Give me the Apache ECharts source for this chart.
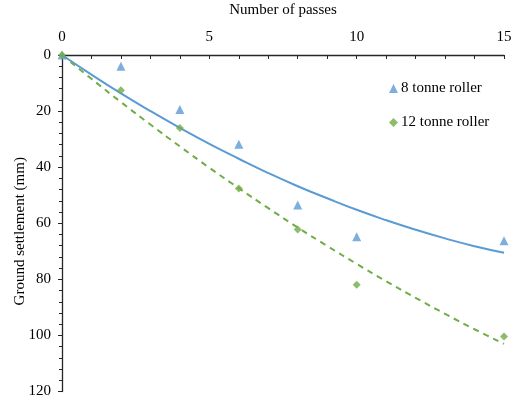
<!DOCTYPE html>
<html>
<head>
<meta charset="utf-8">
<script src="https://cdn.jsdelivr.net/npm/echarts@6/dist/echarts.min.js"></script>
<style>html,body{margin:0;padding:0;background:#fff}#c{width:514px;height:396px}</style>
</head>
<body>
<div id="c"></div>
<script>
// Measured points
const passes = [0, 2, 4, 6, 8, 10, 15];
const roller8 = [0, 4, 19.4, 31.8, 53.5, 64.8, 66.2];
const roller12 = [0, 12.6, 26.0, 47.6, 62.2, 81.9, 100.4];
// Trendlines at each integer number of passes
const trendX = [0, 1, 2, 3, 4, 5, 6, 7, 8, 9, 10, 11, 12, 13, 14, 15];
const trend8 = [0, 7.0, 13.7, 20.0, 26.0, 31.7, 37.0, 42.1, 46.8, 51.1, 55.2, 58.9, 62.3, 65.4, 68.2, 70.5];
const trend12 = [0, 8.5, 16.8, 24.8, 32.6, 40.2, 47.5, 54.6, 61.5, 68.1, 74.5, 80.7, 86.6, 92.3, 97.8, 103.0];
const xTickLabels = ['0', '5', '10', '15'];
const yTicks = [0, 20, 40, 60, 80, 100, 120];

const pair = (xs, ys) => xs.map((x, i) => [x, ys[i]]);
const font = 'Liberation Serif';
const blue = '#5B9BD5', green = '#70AD47', axisCol = '#262626';

const chart = echarts.init(document.getElementById('c'), null, {renderer: 'canvas'});
chart.setOption({
  animation: false,
  backgroundColor: '#fff',
  textStyle: {fontFamily: font},
  grid: {left: 62, right: 10, top: 55, bottom: 4.5, containLabel: false, outerBoundsMode: 'none'},
  xAxis: {
    type: 'value', position: 'top', min: 0, max: 15, interval: 1,
    name: 'Number of passes', nameLocation: 'middle', nameGap: 37, nameMoveOverlap: false,
    nameTextStyle: {fontFamily: font, fontSize: 15, color: '#000'},
    axisLine: {show: true, onZero: false, lineStyle: {color: axisCol, width: 1.3}},
    axisTick: {show: true, inside: true, length: 4, lineStyle: {color: axisCol}},
    axisLabel: {
      fontFamily: font, fontSize: 15, color: '#000', margin: 10,
      formatter: v => (xTickLabels.indexOf(String(v)) >= 0 ? String(v) : '')
    },
    splitLine: {show: false}
  },
  yAxis: {
    type: 'value', inverse: true, min: yTicks[0], max: yTicks[yTicks.length - 1], interval: 20,
    name: 'Ground settlement (mm)', nameLocation: 'middle', nameGap: 34, nameRotate: 90,
    nameMoveOverlap: false,
    nameTextStyle: {fontFamily: font, fontSize: 15, color: '#000', padding: [0, 0, 0, -16]},
    axisLine: {show: true, onZero: false, lineStyle: {color: axisCol, width: 1.3}},
    axisTick: {show: true, inside: false, length: 4, lineStyle: {color: axisCol}},
    minorTick: {show: true, splitNumber: 5, length: 3, lineStyle: {color: axisCol}},
    axisLabel: {fontFamily: font, fontSize: 15, color: '#000', margin: 11},
    splitLine: {show: false}
  },
  legend: {
    orient: 'vertical', left: 384, top: 76, itemGap: 19,
    itemWidth: 9, itemHeight: 9,
    data: ['8 tonne roller', '12 tonne roller'],
    textStyle: {fontFamily: font, fontSize: 15, color: '#000', padding: [0, 0, 0, -2]}
  },
  series: [
    {
      name: 'trend8', type: 'line', data: pair(trendX, trend8), smooth: true,
      showSymbol: false, lineStyle: {color: blue, width: 2}, z: 2, silent: true
    },
    {
      name: 'trend12', type: 'line', data: pair(trendX, trend12), smooth: true,
      showSymbol: false, lineStyle: {color: green, width: 2, type: [6, 5]}, z: 2, silent: true
    },
    {
      name: '8 tonne roller', type: 'scatter', data: pair(passes, roller8),
      symbol: 'triangle', symbolSize: 9, itemStyle: {color: blue}, z: 3
    },
    {
      name: '12 tonne roller', type: 'scatter', data: pair(passes, roller12),
      symbol: 'diamond', symbolSize: 8, itemStyle: {color: green}, z: 4
    }
  ]
});
</script>
</body>
</html>
